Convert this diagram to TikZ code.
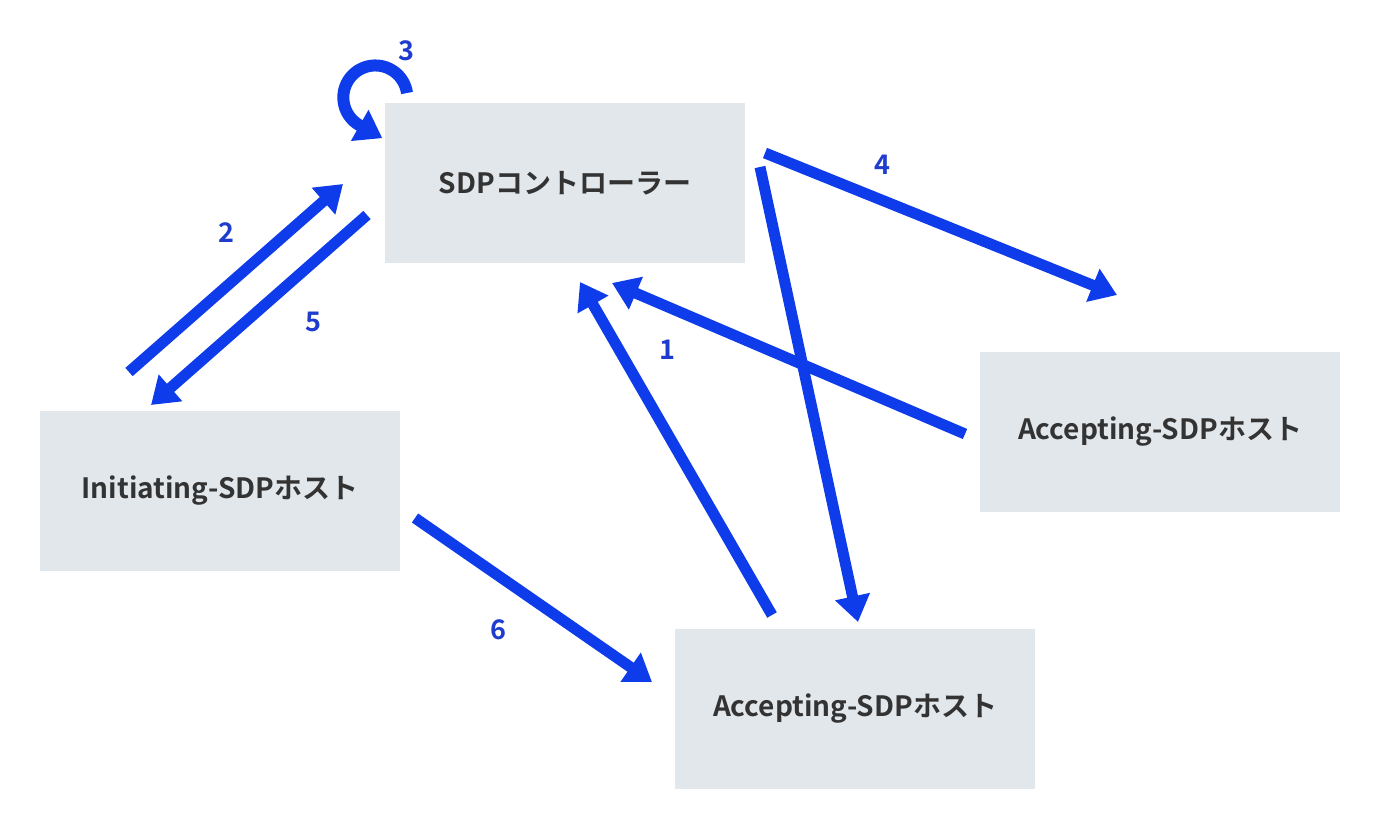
\documentclass[tikz,border=0pt]{standalone}
\usepackage{fontspec}
\setmainfont{Noto Sans CJK JP}[BoldFont={Noto Sans CJK JP Bold}]
\definecolor{sdp_box}{RGB}{226, 231, 235}
\definecolor{sdp_text}{RGB}{51, 51, 51}
\definecolor{sdp_arrow}{RGB}{15, 60, 235}
\definecolor{sdp_num}{RGB}{30, 60, 205}
\usetikzlibrary{arrows.meta, positioning, calc}

\begin{document}
\begin{tikzpicture}[x=1pt, y=-1pt,
    hostbox/.style={fill=sdp_box, minimum width=360pt, minimum height=160pt,
      inner sep=0pt, font=\fontsize{28}{32}\selectfont\bfseries, text=sdp_text},
    flow/.style={draw=sdp_arrow, line width=11pt,
      -{Triangle[length=26pt, width=34pt]}},
    num/.style={font=\fontsize{27}{30}\selectfont\bfseries, text=sdp_num}]
        \useasboundingbox (0,0) rectangle (1380,828);

        % --- Boxes ---
        \node[hostbox] (ctrl) at (565,183) {SDPコントローラー};
        \node[hostbox] (init) at (220,491) {Initiating-SDPホスト};
        \node[hostbox] (accR) at (1160,432) {Accepting-SDPホスト};
        \node[hostbox] (accB) at (855,709) {Accepting-SDPホスト};

        % --- End points of the arrows ---
        \coordinate (a1s) at (772,615);  \coordinate (a1e) at (580,282);
        \coordinate (b1s) at (965,434);  \coordinate (b1e) at (612,283);
        \coordinate (a2s) at (129,372);  \coordinate (a2e) at (343,184);
        \coordinate (a4s) at (765,153);  \coordinate (a4e) at (1117,295);
        \coordinate (b4s) at (760,167);  \coordinate (b4e) at (858,622);
        \coordinate (a5s) at (367,215);  \coordinate (a5e) at (151,405);
        \coordinate (a6s) at (415,518);  \coordinate (a6e) at (652,682);
        \coordinate (a3s) at (407,93);

        % --- Arrows ---
        \draw[flow] (a1s) -- (a1e);
        \draw[flow] (b1s) -- (b1e);
        \draw[flow] (a2s) -- (a2e);
        \draw[flow] (a4s) -- (a4e);
        \draw[flow] (b4s) -- (b4e);
        \draw[flow] (a5s) -- (a5e);
        \draw[flow] (a6s) -- (a6e);
        % self loop at the controller
        \draw[flow, line width=12pt] (a3s) arc[start angle=-8, end angle=-240, radius=32]
          -- ++(23,13);

        % --- Step numbers ---
        \node[num] (n1) at (667,350) {1};
        \node[num] (n2) at (226,233) {2};
        \node[num] (n3) at (406,51) {3};
        \node[num] (n4) at (882,165) {4};
        \node[num] (n5) at (313,322) {5};
        \node[num] (n6) at (498,630) {6};
      \end{tikzpicture}
\end{document}
